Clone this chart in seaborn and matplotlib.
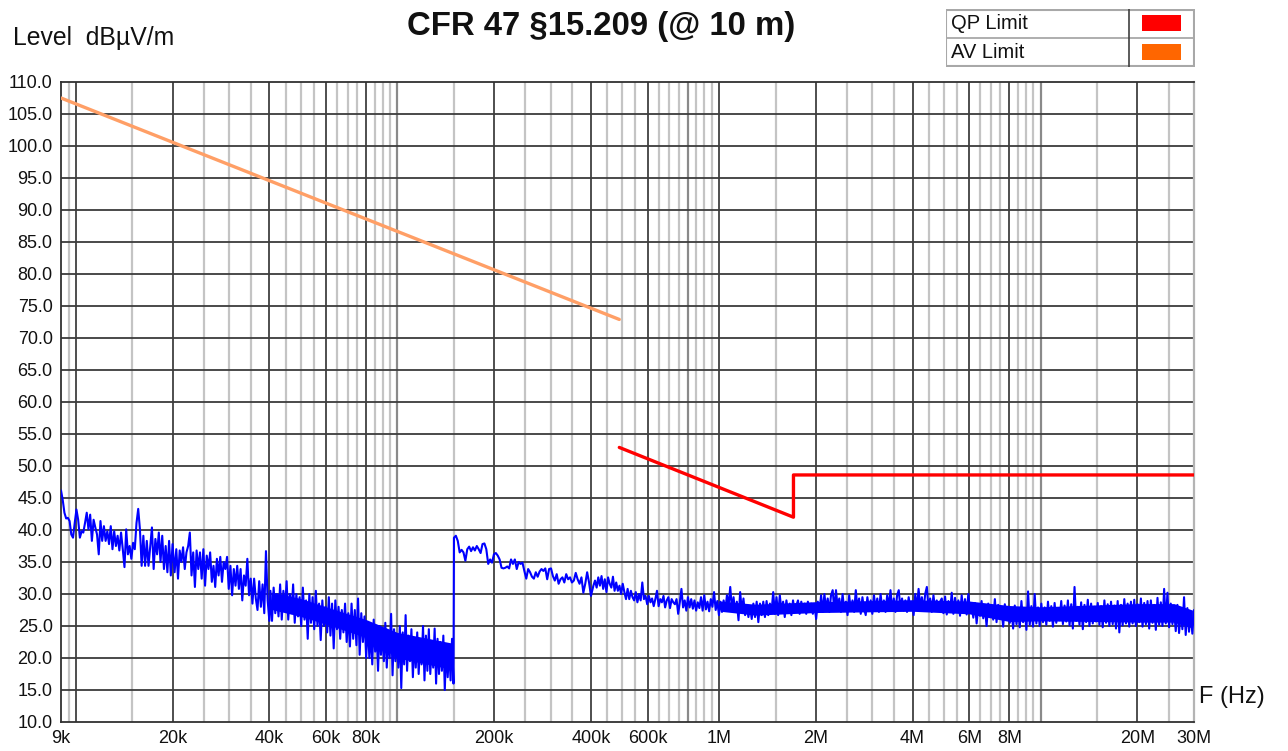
import numpy as np
import pandas as pd
import matplotlib
matplotlib.use("Agg")
import matplotlib.pyplot as plt
import seaborn as sns
from matplotlib.patches import Rectangle


# measured trace, split in sweep segments (start Hz, stop Hz) + levels dBuV/m
seg_a1 = (9.0e3, 20.0e3)
lvl_a1 = [46.2, 44.7, 42.7, 41.8, 41.9, 41.4, 39.3, 38.8, 41.1, 43.2,
          41.6, 38.8, 39.8, 39.6, 41.1, 42.7, 40.1, 42.4, 38.3, 41.6,
          40.4, 39.3, 36.2, 41.4, 38.3, 40.6, 38.3, 39.8, 37.8, 40.6,
          37.0, 39.8, 37.5, 39.1, 36.8, 39.6, 37.0, 34.2, 40.1, 36.2,
          37.5, 35.5, 38.0, 37.0, 41.1, 43.3, 40.1, 34.4, 39.1, 34.4,
          38.3, 34.4, 37.5, 40.4, 33.9, 38.6, 36.2, 39.6, 35.0, 39.1,
          33.9, 37.5, 33.4, 38.3, 32.9, 37.8]

seg_a2 = (20.3e3, 40.0e3)
lvl_a2 = [33.4, 37.0, 32.4, 36.8, 35.0, 37.3, 33.9, 36.5, 37.5, 39.6,
          32.9, 36.5, 31.1, 36.8, 33.9, 36.5, 32.4, 37.0, 31.3, 36.0,
          33.9, 36.5, 31.9, 34.4, 31.1, 35.5, 32.9, 35.8, 31.9, 35.0,
          33.9, 35.8, 30.8, 34.4, 29.8, 33.9, 31.3, 34.4, 30.8, 33.9,
          29.0, 32.9, 31.3, 35.5, 29.8, 32.4, 28.5, 32.4, 29.3, 27.5,
          32.0, 28.0, 31.5, 27.0, 36.7, 29.0, 25.8]

seg_a3 = (40.3e3, 80.0e3)
lvl_a3 = [30.5, 25.8, 31.0, 27.0, 30.0, 26.5, 31.5, 26.0, 30.5, 27.5,
          32.0, 26.0, 30.0, 27.0, 31.5, 25.5, 30.0, 26.5, 29.5, 25.0,
          31.0, 26.0, 29.0, 23.0, 30.0, 25.5, 29.5, 24.5, 30.5, 25.0,
          28.5, 22.8, 29.0, 25.0, 28.0, 24.0, 29.5, 23.5, 28.5, 21.5,
          29.0, 24.5, 28.0, 23.0, 27.5, 24.0, 28.5, 22.5, 27.0, 21.8,
          28.5, 23.0, 27.5, 22.0, 29.3, 20.5, 27.0, 22.5, 26.5, 20.0]

seg_a4 = (81.0e3, 149.5e3)
lvl_a4 = [25.5, 20.0, 24.5, 19.0, 26.0, 21.0, 24.0, 18.0, 25.0, 20.5,
          24.0, 19.5, 25.5, 18.5, 23.5, 20.0, 26.9, 17.3, 24.5, 19.5,
          23.0, 18.5, 25.0, 15.3, 24.0, 19.0, 26.7, 18.0, 23.5, 19.5,
          24.5, 17.0, 23.0, 18.5, 24.0, 17.5, 22.5, 19.0, 25.0, 16.5,
          23.5, 18.0, 24.5, 17.5, 22.0, 18.5, 24.6, 16.0, 23.0, 17.5,
          22.5, 18.0, 23.5, 15.0, 22.0, 17.0, 21.5, 16.5, 23.0, 16.0]

seg_b1 = (150.0e3, 400.0e3)
lvl_b1 = [38.8, 39.1, 38.3, 36.5, 36.9, 36.5, 35.2, 37.0, 37.4, 36.7,
          37.3, 36.8, 37.5, 37.0, 36.4, 37.8, 37.9, 37.0, 34.7, 35.4,
          34.9, 36.2, 36.4, 36.0, 35.4, 34.1, 34.0, 34.1, 34.3, 34.0,
          35.4, 34.7, 35.4, 33.9, 35.0, 34.7, 34.9, 33.6, 32.4, 33.9,
          33.4, 32.7, 32.4, 33.4, 32.7, 33.5, 33.9, 33.6, 34.0, 32.3,
          33.9, 34.0, 32.8, 32.1, 33.1, 31.6, 32.3, 32.6, 31.8, 33.1,
          32.3, 32.6, 31.8, 32.1, 33.3, 32.3, 31.6, 32.6, 30.2, 31.6,
          33.4, 31.8, 29.7]

seg_b2 = (407.0e3, 1.0e6)
lvl_b2 = [31.3, 32.1, 31.0, 32.6, 31.3, 32.8, 30.8, 32.3, 30.3, 32.6,
          31.6, 31.0, 32.7, 30.5, 31.8, 30.5, 31.3, 30.0, 31.6, 30.3,
          29.2, 30.8, 29.2, 30.5, 29.5, 29.0, 30.3, 28.7, 30.0, 29.0,
          31.8, 29.2, 29.7, 28.4, 29.7, 28.7, 29.3, 28.1, 29.2, 30.5,
          28.1, 29.2, 28.7, 29.7, 27.9, 29.0, 29.5, 27.8, 29.2, 28.7,
          28.4, 29.2, 26.9, 28.7, 30.8, 27.9, 29.0, 27.4, 29.5, 27.9,
          29.2, 27.7, 29.0, 27.4, 28.7, 27.8, 29.5, 27.4, 29.8, 27.6,
          28.8, 27.3, 29.2, 28.0, 30.3, 27.5, 28.9, 26.7]

seg_c1 = (1.01e6, 4.87e6)
lvl_c1 = [28.8, 27.2, 29.0, 27.4, 29.8, 28.2, 31.1, 27.7, 29.5, 27.2,
          28.8, 25.9, 30.3, 27.4, 29.3, 26.7, 28.2, 26.4, 28.0, 26.1,
          28.5, 26.4, 28.8, 25.6, 28.5, 26.7, 28.8, 26.4, 28.9, 26.7,
          28.5, 27.2, 30.3, 26.9, 29.5, 26.7, 29.8, 27.4, 28.8, 26.4,
          29.0, 27.2, 28.5, 26.7, 29.0, 27.2, 28.2, 29.0, 26.9, 28.8,
          27.2, 28.5, 26.9, 28.8, 27.2, 28.5, 26.9, 28.2, 26.1, 28.8,
          27.4, 29.8, 27.2, 30.0, 27.7, 29.3, 27.2, 29.8, 30.6, 27.4,
          30.6, 28.0, 29.3, 27.2, 30.0, 27.4, 28.8, 26.7, 29.8, 27.4,
          29.0, 27.2, 30.6, 27.7, 29.3, 26.9, 29.5, 27.7, 26.7, 29.5,
          27.7, 29.0, 26.9, 29.8, 27.7, 29.3, 27.2, 30.0, 27.7, 29.0,
          27.2, 29.8, 28.0, 30.6, 27.4, 29.3, 27.2, 29.8, 30.6, 27.7,
          29.3, 27.4, 29.0, 27.2, 29.5, 27.7, 28.8, 26.7, 30.0, 27.7,
          30.8, 28.0, 29.5, 27.4, 30.0, 31.1, 27.7, 29.3, 27.2, 29.8,
          27.7, 29.0, 27.4, 28.8]

seg_c2 = (4.93e6, 30.0e6)
lvl_c2 = [29.3, 27.0, 29.6, 26.8, 28.9, 27.2, 30.2, 26.9, 29.4, 27.4,
          29.0, 26.6, 29.8, 27.1, 29.2, 26.8, 30.0, 27.3,
          28.2, 26.3, 28.6, 25.4, 28.0, 26.6, 28.9, 26.2, 27.9, 25.0,
          28.5, 26.4, 28.1, 26.0, 29.2, 25.6, 28.3, 26.5, 27.8, 24.9,
          28.4, 26.1, 27.9, 25.5,
          27.6, 24.6, 28.2, 25.3, 27.5, 24.8, 28.9, 25.6, 27.7, 24.4,
          30.4, 25.2, 28.1, 24.9, 30.0, 25.4, 27.9, 25.0,
          28.5, 25.6, 27.9, 25.2, 28.8, 25.8, 28.1, 24.9, 28.6, 25.5,
          27.8, 25.9, 28.9, 25.3, 28.2, 25.7, 29.0, 25.1, 28.4, 24.6,
          31.1, 25.8, 28.0, 25.2, 28.7, 24.5, 28.3, 25.6, 29.1, 25.0,
          28.5, 25.4, 28.0, 25.7,
          28.6, 25.2, 28.1, 24.8, 29.0, 25.5, 28.4, 25.0, 28.8, 25.3,
          28.2, 24.6, 28.9, 24.0, 28.3, 25.1, 29.2, 25.4, 28.5, 24.9,
          28.8, 25.4, 29.1, 25.0, 28.4, 25.6, 29.3, 24.9, 28.6, 25.3,
          28.9, 24.6, 29.0, 25.5, 28.3, 24.4, 29.4, 25.2, 28.7, 25.0,
          30.8, 25.4, 30.2, 24.8, 28.5, 25.3,
          27.6, 24.2, 28.3, 23.9, 27.4, 24.5, 29.5, 23.6, 27.8, 24.1,
          27.2, 23.8, 27.5]

# solid core of the noise band (where the trace is densest)
core_lo_freq = [40.5e3, 50e3, 60e3, 80e3, 100e3, 149e3]
core_lo_hi = [30.3, 29.3, 28.0, 26.0, 24.0, 22.3]
core_lo_lo = [27.6, 26.5, 25.3, 23.2, 20.0, 18.2]
core_hi_freq = [1.01e6, 1.3e6, 2e6, 4e6, 6e6, 8e6, 10e6, 15e6, 20e6, 26e6, 30e6]
core_hi_hi = [28.9, 28.4, 28.8, 29.1, 28.9, 28.2, 28.0, 28.3, 28.5, 28.5, 27.4]
core_hi_lo = [27.3, 26.7, 27.1, 27.3, 26.9, 25.7, 25.8, 25.7, 25.6, 25.6, 24.6]

# limit lines
av_freq = [9.0e3, 490.0e3]
av_level = [107.5, 72.9]
qp_freq = [490.0e3, 1.705e6, 1.705e6, 30.0e6]
qp_level = [52.9, 42.0, 48.6, 48.6]

# axis ticks
ytick_vals = [10, 15, 20, 25, 30, 35, 40, 45, 50, 55, 60, 65, 70, 75, 80,
              85, 90, 95, 100, 105, 110]
xtick_freq = [9e3, 20e3, 40e3, 60e3, 80e3, 200e3, 400e3, 600e3, 1e6, 2e6,
              4e6, 6e6, 8e6, 20e6, 30e6]
xtick_text = ["9k", "20k", "40k", "60k", "80k", "200k", "400k", "600k", "1M",
              "2M", "4M", "6M", "8M", "20M", "30M"]


segments = [(seg_a1, lvl_a1), (seg_a2, lvl_a2), (seg_a3, lvl_a3),
            (seg_a4, lvl_a4), (seg_b1, lvl_b1), (seg_b2, lvl_b2),
            (seg_c1, lvl_c1), (seg_c2, lvl_c2)]
parts = []
for (f0, f1), lv in segments:
    parts.append(pd.DataFrame({"freq": np.geomspace(f0, f1, len(lv)), "level": lv}))
trace = pd.concat(parts, ignore_index=True)

sns.set_style("white")
plt.rcParams['font.family'] = ['Liberation Sans', 'DejaVu Sans']

fig = plt.figure(figsize=(12.88, 7.51), dpi=100)
ax = fig.add_axes([61 / 1288, 1 - 722 / 751, 1133 / 1288, 640 / 751])
ax.set_xscale('log')
ax.set_xlim(9e3, 30e6)
ax.set_ylim(10, 110)

# grid: lines every half unit of each decade
dark = [10e3, 20e3, 40e3, 60e3, 80e3, 200e3, 400e3, 600e3, 1e6, 2e6, 4e6,
        6e6, 8e6, 20e6]
mid = [100e3, 800e3, 10e6]
light = [9.5e3]
for dec in [1e4, 1e5, 1e6, 1e7]:
    for m in np.arange(1.0, 10.0, 0.5):
        f = round(m * dec)
        if f < 30e6 and f not in dark and f not in mid:
            light.append(f)
for f in light:
    ax.axvline(f, color='#c4c4c4', lw=1.6, zorder=0)
for f in mid:
    ax.axvline(f, color='#8a8a8a', lw=1.6, zorder=0)
for f in dark:
    ax.axvline(f, color='#1e1e1e', lw=1.1, zorder=0)
for y in ytick_vals[1:-1]:
    ax.axhline(y, color='#3c3c3c', lw=1.3, zorder=0)

ax.fill_between(core_lo_freq, core_lo_lo, core_lo_hi, color='#0000ff', lw=0, zorder=2)
ax.fill_between(core_hi_freq, core_hi_lo, core_hi_hi, color='#0000ff', lw=0, zorder=2)
sns.lineplot(data=trace, x="freq", y="level", estimator=None, sort=False,
             color='#0000ff', lw=1.5, ax=ax, zorder=3)
sns.lineplot(x=av_freq, y=av_level, estimator=None, sort=False,
             color='#ff9f66', lw=2.4, ax=ax, zorder=4)
sns.lineplot(x=qp_freq, y=qp_level, estimator=None, sort=False,
             color='#ff0000', lw=2.4, ax=ax, zorder=4)

ax.set_yticks(ytick_vals)
ax.set_yticklabels([f"{v:.1f}" for v in ytick_vals])
ax.set_xticks(xtick_freq)
ax.set_xticklabels(xtick_text)
ax.xaxis.set_minor_locator(matplotlib.ticker.NullLocator())
ax.tick_params(axis='both', direction='out', length=4, width=1,
               color='#404040', labelsize=13, pad=2, labelcolor='#111111')
ax.set_xlabel("")
ax.set_ylabel("")
for side in ['left', 'bottom', 'top']:
    ax.spines[side].set_color('#303030')
    ax.spines[side].set_linewidth(1.3)
ax.spines['right'].set_color('#b4b4b4')
ax.spines['right'].set_linewidth(1.6)

fig.text(601 / 1288, 1 - 27 / 751, "CFR 47 §15.209 (@ 10 m)", ha='center',
         va='center', fontsize=23.7, fontweight='bold', color='#111111')
fig.text(13 / 1288, 1 - 38 / 751, "Level  dBµV/m", ha='left', va='center',
         fontsize=17.8, color='#111111')
fig.text(1199 / 1288, 1 - 697 / 751, "F (Hz)", ha='left', va='center',
         fontsize=17, color='#111111')

# legend table in the top right corner, drawn in pixel units
lx0, lx1, ly0, ly1 = 945.7, 1195.0, 9.3, 66.7
lax = fig.add_axes([lx0 / 1288, 1 - ly1 / 751, (lx1 - lx0) / 1288, (ly1 - ly0) / 751])
lax.set_xlim(lx0, lx1)
lax.set_ylim(ly1, ly0)
lax.axis('off')
lax.add_patch(Rectangle((lx0 + 0.5, ly0 + 0.5), lx1 - lx0 - 1.5, ly1 - ly0 - 1.5,
                        fill=False, ec='#a8a8a8', lw=1.5))
lax.plot([lx0, lx1], [38.3, 38.3], color='#a8a8a8', lw=1.3)
lax.plot([1128.7, 1128.7], [ly0, ly1], color='#404040', lw=1.2)
lax.add_patch(Rectangle((1142.3, 15), 38.4, 16, color='#ff0000', lw=0))
lax.add_patch(Rectangle((1142.3, 44), 38.4, 16, color='#ff6600', lw=0))
lax.text(950.7, 23.5, "QP Limit", ha='left', va='center', fontsize=14.5,
         color='#111111')
lax.text(950.7, 52.3, "AV Limit", ha='left', va='center', fontsize=14.5,
         color='#111111')

plt.savefig('out.png', dpi=100)
